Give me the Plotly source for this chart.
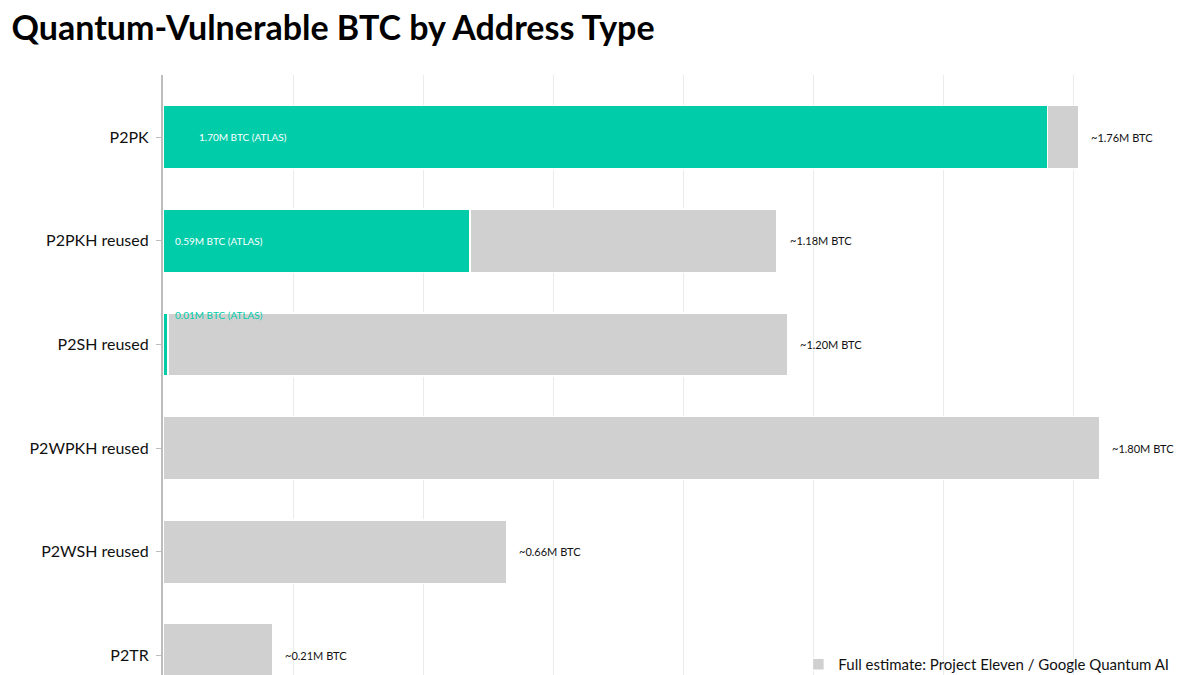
import plotly.graph_objects as go

categories = ["P2PK", "P2PKH reused", "P2SH reused", "P2WPKH reused", "P2WSH reused", "P2TR"]
atlas = [1.70, 0.59, 0.01, 0, 0, 0]
full = [1.76, 1.18, 1.20, 1.80, 0.66, 0.21]
remainder = [round(f - a, 2) for f, a in zip(full, atlas)]

teal = "#00CCAA"
grey = "#D0D0D0"

fig = go.Figure()
fig.add_trace(go.Bar(y=categories, x=atlas, orientation="h", name="ATLAS (observed)",
                     marker=dict(color=teal, line=dict(color="white", width=1.5)), width=0.61,
                     showlegend=False))
fig.add_trace(go.Bar(y=categories, x=remainder, orientation="h",
                     name="Full estimate: Project Eleven / Google Quantum AI",
                     marker=dict(color=grey, line=dict(color="white", width=1.5)), width=0.61))

# labels
for cat, a, f in zip(categories, atlas, full):
    fig.add_annotation(x=f + 0.02, y=cat, text=f"~{f:.2f}M BTC", showarrow=False,
                       xanchor="left", font=dict(size=11, color="#111"))
    if a >= 0.1:
        fig.add_annotation(x=0.02 if a < 1 else 0.065, y=cat, text=f"{a:.2f}M BTC (ATLAS)",
                           showarrow=False, xanchor="left", font=dict(size=10, color="white"))
    elif a > 0:
        fig.add_annotation(x=0.02, y=cat, yshift=29, text=f"{a:.2f}M BTC (ATLAS)", showarrow=False,
                           xanchor="left", font=dict(size=10, color=teal))

fig.update_layout(
    barmode="stack",
    width=1200, height=675,
    margin=dict(l=155, r=0, t=67, b=8, autoexpand=False),
    plot_bgcolor="white", paper_bgcolor="white",
    font=dict(family="Lato", color="#111"),
    title=dict(text="<b>Quantum-Vulnerable BTC by Address Type</b>", x=0.003, xanchor="left",
               xref="container", yref="container",
               y=1, yanchor="top", pad=dict(t=8, l=0),
               font=dict(size=34, color="#000", family="Lato")),
    xaxis=dict(range=[0, 2.008], dtick=0.25, showgrid=True, gridcolor="#EBEBEB",
               showticklabels=False, zeroline=False, fixedrange=True),
    yaxis=dict(range=[5.19, -0.6], showline=True, linecolor="#BDBDBD", linewidth=2,
               ticks="outside", ticklen=5, tickcolor="#BDBDBD",
               tickfont=dict(size=16, color="#111"), ticksuffix=" "),
    legend=dict(x=0.608, y=0.045, xanchor="left", yanchor="top",
                font=dict(size=15, color="#111"), bgcolor="rgba(0,0,0,0)"),
    bargap=0.39,
)

fig.write_html("out.html")
